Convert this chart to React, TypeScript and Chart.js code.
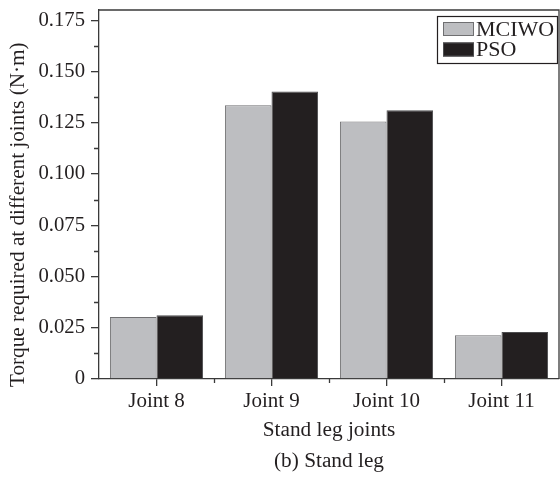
import { useEffect, useRef } from 'react';
import { Chart, registerables } from 'chart.js';

Chart.register(...registerables);

// Torque needed at each stand-leg joint (N·m)
const joints = ['Joint 8', 'Joint 9', 'Joint 10', 'Joint 11'];
const mciwoTorque = [0.0302, 0.1335, 0.1256, 0.0213];
const psoTorque = [0.0311, 0.1402, 0.1311, 0.0229];
const seriesNames = ['MCIWO', 'PSO'];
const yTitle = 'Torque required at different joints (N·m)';
const xTitle = ['Stand leg joints', '(b) Stand leg'];

const yTickStep = 0.025;
const yMax = 0.18;

const FONT = "'Liberation Serif', 'Times New Roman', serif";
const INK = '#231f20';
const AXIS = '#3a3a3a';
const GREY_FILL = '#bdbec1';
const GREY_EDGE = '#6f6f71';
const DARK_FILL = '#231f20';
const DARK_EDGE = '#4d4d4f';

// Closes the plot frame, adds minor ticks, the y title and the boxed legend.
const framePlugin = {
  id: 'frameAndLegend',
  afterDraw(chart: any) {
    const { ctx, chartArea, scales } = chart;
    const { left, right, top, bottom } = chartArea;
    const x = scales.x;
    const y = scales.y;
    ctx.save();
    ctx.strokeStyle = AXIS;
    ctx.lineWidth = 1.3;

    ctx.beginPath();
    ctx.moveTo(left, top);
    ctx.lineTo(right, top);
    ctx.lineTo(right, bottom);
    ctx.stroke();

    // minor ticks halfway between labelled y ticks
    ctx.beginPath();
    const nMinor = Math.floor(yMax / yTickStep + 1e-9);
    for (let i = 0; i < nMinor; i++) {
      const v = (i + 0.5) * yTickStep;
      if (v >= yMax) break;
      const py = Math.round(y.getPixelForValue(v)) + 0.5;
      ctx.moveTo(left - 5, py);
      ctx.lineTo(left, py);
    }
    // short ticks on the boundaries between joints
    for (let i = 0; i < joints.length - 1; i++) {
      const px = Math.round((x.getPixelForValue(i) + x.getPixelForValue(i + 1)) / 2) + 0.5;
      ctx.moveTo(px, bottom);
      ctx.lineTo(px, bottom + 4);
    }
    ctx.stroke();

    // rotated y-axis title, starting just below the x axis
    ctx.save();
    ctx.translate(18, bottom + 8);
    ctx.rotate(-Math.PI / 2);
    ctx.font = `21.2px ${FONT}`;
    ctx.fillStyle = INK;
    ctx.textAlign = 'left';
    ctx.textBaseline = 'middle';
    ctx.fillText(yTitle, 0, 0);
    ctx.restore();

    // legend box
    const boxW = 120;
    const boxH = 47;
    const bx = right - boxW - 2;
    const by = top + 6;
    ctx.lineWidth = 1.2;
    ctx.strokeStyle = INK;
    ctx.strokeRect(bx + 0.5, by + 0.5, boxW, boxH);
    ctx.font = `22px ${FONT}`;
    ctx.textBaseline = 'middle';
    ctx.textAlign = 'left';
    chart.data.datasets.forEach((ds: any, i: number) => {
      const cy = by + 13 + i * 20.5;
      ctx.fillStyle = ds.backgroundColor;
      ctx.fillRect(bx + 6, cy - 7, 31, 14);
      ctx.strokeStyle = ds.borderColor;
      ctx.lineWidth = 1;
      ctx.strokeRect(bx + 6.5, cy - 6.5, 30, 13);
      ctx.fillStyle = INK;
      ctx.fillText(ds.label, bx + 39, cy + 1);
    });
    ctx.restore();
  },
};

export default function App() {
  const canvasRef = useRef<HTMLCanvasElement | null>(null);

  useEffect(() => {
    const canvas = canvasRef.current;
    if (!canvas) return;
    const chart = new Chart(canvas, {
      type: 'bar',
      data: {
        labels: joints,
        datasets: [
          {
            label: seriesNames[0],
            data: mciwoTorque,
            backgroundColor: GREY_FILL,
            borderColor: GREY_EDGE,
            borderWidth: 1,
            barPercentage: 1,
            categoryPercentage: 0.81,
          },
          {
            label: seriesNames[1],
            data: psoTorque,
            backgroundColor: DARK_FILL,
            borderColor: DARK_EDGE,
            borderWidth: 1,
            barPercentage: 1,
            categoryPercentage: 0.81,
          },
        ],
      },
      options: {
        responsive: false,
        animation: false,
        devicePixelRatio: 1,
        layout: { padding: { top: 10, right: 1, left: 0, bottom: 0 } },
        plugins: {
          legend: { display: false },
          tooltip: { enabled: false },
          title: { display: false },
        },
        scales: {
          x: {
            afterFit: (scale: any) => {
              scale.height = 98;
              scale.paddingLeft = 0;
              scale.paddingRight = 0;
            },
            grid: {
              drawOnChartArea: false,
              drawTicks: true,
              tickLength: 7,
              offset: false,
              color: AXIS,
              lineWidth: 1.3,
            },
            border: { color: AXIS, width: 1.3 },
            ticks: {
              color: INK,
              font: { family: FONT, size: 21 },
              padding: 3,
              maxRotation: 0,
            },
            title: {
              display: true,
              text: xTitle,
              color: INK,
              font: { family: FONT, size: 21.3, lineHeight: 1.46 },
              padding: { top: 0, bottom: 0 },
            },
          },
          y: {
            min: 0,
            max: yMax,
            afterFit: (scale: any) => {
              scale.width = 99;
              scale.paddingTop = 0;
              scale.paddingBottom = 0;
            },
            grid: {
              drawOnChartArea: false,
              drawTicks: true,
              tickLength: 8,
              color: AXIS,
              lineWidth: 1.3,
            },
            border: { color: AXIS, width: 1.3 },
            ticks: {
              stepSize: yTickStep,
              includeBounds: false,
              color: INK,
              font: { family: FONT, size: 20.7 },
              padding: 6,
              callback: (v: any) => (Number(v) === 0 ? '0' : Number(v).toFixed(3)),
            },
            title: { display: false },
          },
        },
      },
      plugins: [framePlugin],
    } as any);
    return () => chart.destroy();
  }, []);

  return (
    <div style={{ position: 'fixed', left: 0, top: 0, width: 560, height: 477, background: '#fff' }}>
      <canvas ref={canvasRef} width={560} height={477} style={{ display: 'block' }} />
    </div>
  );
}
